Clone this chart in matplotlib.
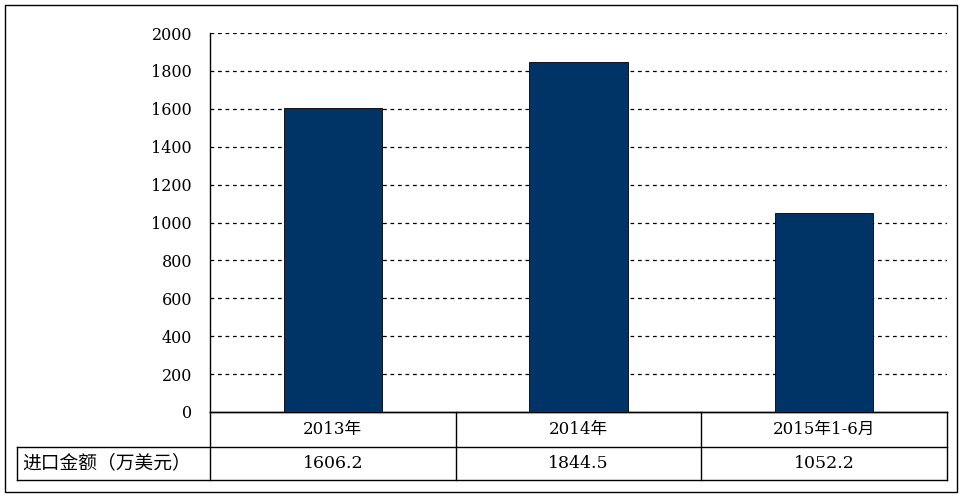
import matplotlib
matplotlib.use("Agg")
import matplotlib.pyplot as plt
import matplotlib.transforms as mtransforms
from matplotlib.patches import Rectangle

plt.rcParams['font.family'] = ['DejaVu Serif', 'Noto Sans CJK SC']

# ------------------------------------------------------------ dados
categorias = ["2013年", "2014年", "2015年1-6月"]
valores = [1606.2, 1844.5, 1052.2]
rotulos_valores = ["1606.2", "1844.5", "1052.2"]
serie_nome = "进口金额（万美元）"
yticks = list(range(0, 2001, 200))

AZUL = "#003366"
W, H = 964, 498

fig = plt.figure(figsize=(W / 100, H / 100), dpi=100)
fig.patch.set_facecolor("white")

# área do gráfico (pixels -> fração da figura)
x0, x1, ytop, ybot = 210, 947, 33, 412
ax = fig.add_axes([x0 / W, 1 - ybot / H, (x1 - x0) / W, (ybot - ytop) / H])

pos = list(range(len(categorias)))
ax.bar(pos, valores, width=0.4, color=AZUL, edgecolor="black", linewidth=0.6,
       zorder=3)
ax.set_xlim(-0.5, len(categorias) - 0.5)
ax.set_ylim(0, 2000)
ax.set_yticks(yticks)
ax.set_yticklabels([str(t) for t in yticks], fontsize=11.5)
ax.set_xticks([])
ax.tick_params(axis="y", length=0, pad=13)
for t in yticks[1:]:
    ax.axhline(t, color="black", linestyle=(0, (3, 3)), linewidth=0.9, zorder=1)
for s in ("top", "right"):
    ax.spines[s].set_visible(False)
ax.spines["left"].set_linewidth(1.0)
ax.spines["bottom"].set_linewidth(1.0)

# ------------------------------------------------------------ tabela de dados
alt = ybot - ytop
y_l1 = -(447 - ybot) / alt       # base da linha das categorias
y_l2 = -(480 - ybot) / alt       # base da linha de valores
x_esq = -0.5 + (17 - x0) / (x1 - x0) * len(categorias)   # borda esq. rótulo

tr = mtransforms.blended_transform_factory(ax.transData, ax.transAxes)
kw = dict(color="black", linewidth=1.0, clip_on=False, transform=tr)
n = len(categorias)
ax.plot([-0.5, n - 0.5], [0, 0], **kw)
ax.plot([x_esq, n - 0.5], [y_l1, y_l1], **kw)
ax.plot([x_esq, n - 0.5], [y_l2, y_l2], **kw)
ax.plot([x_esq, x_esq], [y_l1, y_l2], **kw)
for b in [i - 0.5 for i in range(n + 1)]:
    ax.plot([b, b], [0, y_l2], **kw)

for i, (c, v) in enumerate(zip(categorias, rotulos_valores)):
    ax.text(i, y_l1 / 2, c, ha="center", va="center", fontsize=12,
            transform=tr)
    ax.text(i, (y_l1 + y_l2) / 2, v, ha="center", va="center", fontsize=12.5,
            transform=tr)
ax.text(x_esq + 0.02, (y_l1 + y_l2) / 2, serie_nome, ha="left", va="center",
        fontsize=13.5, transform=tr)

# moldura externa
fig.patches.append(Rectangle((5 / W, 6 / H), (957 - 5) / W, (493 - 6) / H,
                             transform=fig.transFigure, fill=False,
                             edgecolor="black", linewidth=1.0))

fig.savefig("out.png", dpi=100)
